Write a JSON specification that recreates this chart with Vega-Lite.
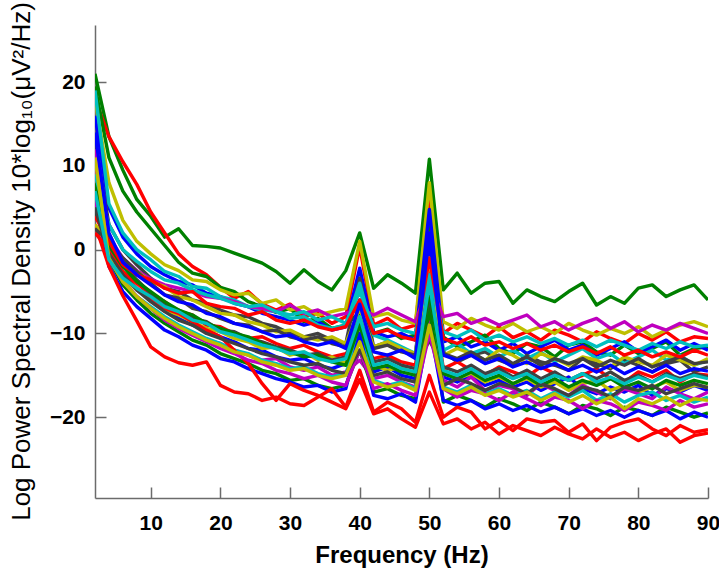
{
"$schema": "https://vega.github.io/schema/vega-lite/v6.json",
"width": 613, "height": 473,
"autosize": {"type": "none"},
"padding": {"left": 95, "top": 25, "right": 11, "bottom": 73},
"background": "white",
"config": {"view": {"stroke": null}},
"datasets": {"psd": [
{"s":1,"c":"g","f":2,"v":21},{"s":1,"c":"g","f":4,"v":13.5},{"s":1,"c":"g","f":6,"v":9.5},{"s":1,"c":"g","f":8,"v":6},{"s":1,"c":"g","f":10,"v":4},{"s":1,"c":"g","f":12,"v":1.5},{"s":1,"c":"g","f":14,"v":2.5},{"s":1,"c":"g","f":16,"v":0.5},{"s":1,"c":"g","f":18,"v":0.4},{"s":1,"c":"g","f":20,"v":0.2},{"s":1,"c":"g","f":22,"v":-0.4},{"s":1,"c":"g","f":24,"v":-1},{"s":1,"c":"g","f":26,"v":-1.6},{"s":1,"c":"g","f":28,"v":-2.6},{"s":1,"c":"g","f":30,"v":-4},{"s":1,"c":"g","f":32,"v":-2.4},{"s":1,"c":"g","f":34,"v":-3.8},{"s":1,"c":"g","f":36,"v":-4.8},{"s":1,"c":"g","f":38,"v":-2.5},{"s":1,"c":"g","f":40,"v":2},{"s":1,"c":"g","f":42,"v":-4.6},{"s":1,"c":"g","f":44,"v":-3},{"s":1,"c":"g","f":46,"v":-4},{"s":1,"c":"g","f":48,"v":-5.2},{"s":1,"c":"g","f":50,"v":10.8},{"s":1,"c":"g","f":52,"v":-4.8},{"s":1,"c":"g","f":54,"v":-2.8},{"s":1,"c":"g","f":56,"v":-5.2},{"s":1,"c":"g","f":58,"v":-4},{"s":1,"c":"g","f":60,"v":-3.8},{"s":1,"c":"g","f":62,"v":-6.4},{"s":1,"c":"g","f":64,"v":-4.8},{"s":1,"c":"g","f":66,"v":-5.6},{"s":1,"c":"g","f":68,"v":-6.2},{"s":1,"c":"g","f":70,"v":-5},{"s":1,"c":"g","f":72,"v":-4},{"s":1,"c":"g","f":74,"v":-6.6},{"s":1,"c":"g","f":76,"v":-5.6},{"s":1,"c":"g","f":78,"v":-6.4},{"s":1,"c":"g","f":80,"v":-4.6},{"s":1,"c":"g","f":82,"v":-4.2},{"s":1,"c":"g","f":84,"v":-5.6},{"s":1,"c":"g","f":86,"v":-4.8},{"s":1,"c":"g","f":88,"v":-4.2},{"s":1,"c":"g","f":90,"v":-6},
{"s":2,"c":"r","f":2,"v":18},{"s":2,"c":"r","f":4,"v":13.5},{"s":2,"c":"r","f":6,"v":10.5},{"s":2,"c":"r","f":8,"v":7.8},{"s":2,"c":"r","f":10,"v":4.5},{"s":2,"c":"r","f":12,"v":2},{"s":2,"c":"r","f":14,"v":-0.5},{"s":2,"c":"r","f":16,"v":-2},{"s":2,"c":"r","f":18,"v":-3},{"s":2,"c":"r","f":20,"v":-4.5},{"s":2,"c":"r","f":22,"v":-5.8},{"s":2,"c":"r","f":24,"v":-5},{"s":2,"c":"r","f":26,"v":-6.5},{"s":2,"c":"r","f":28,"v":-7.2},{"s":2,"c":"r","f":30,"v":-6.5},{"s":2,"c":"r","f":32,"v":-8},{"s":2,"c":"r","f":34,"v":-7.6},{"s":2,"c":"r","f":36,"v":-8.8},{"s":2,"c":"r","f":38,"v":-8},{"s":2,"c":"r","f":40,"v":0.4},{"s":2,"c":"r","f":42,"v":-9},{"s":2,"c":"r","f":44,"v":-8.2},{"s":2,"c":"r","f":46,"v":-9.5},{"s":2,"c":"r","f":48,"v":-9},{"s":2,"c":"r","f":50,"v":6.2},{"s":2,"c":"r","f":52,"v":-10},{"s":2,"c":"r","f":54,"v":-8.8},{"s":2,"c":"r","f":56,"v":-9.6},{"s":2,"c":"r","f":58,"v":-10.4},{"s":2,"c":"r","f":60,"v":-9.2},{"s":2,"c":"r","f":62,"v":-10.5},{"s":2,"c":"r","f":64,"v":-9.8},{"s":2,"c":"r","f":66,"v":-10.8},{"s":2,"c":"r","f":68,"v":-9.6},{"s":2,"c":"r","f":70,"v":-10.2},{"s":2,"c":"r","f":72,"v":-11},{"s":2,"c":"r","f":74,"v":-9.8},{"s":2,"c":"r","f":76,"v":-10.6},{"s":2,"c":"r","f":78,"v":-11.2},{"s":2,"c":"r","f":80,"v":-10},{"s":2,"c":"r","f":82,"v":-10.8},{"s":2,"c":"r","f":84,"v":-9.8},{"s":2,"c":"r","f":86,"v":-11},{"s":2,"c":"r","f":88,"v":-10.4},{"s":2,"c":"r","f":90,"v":-10.6},
{"s":3,"c":"g","f":2,"v":19.5},{"s":3,"c":"g","f":4,"v":11},{"s":3,"c":"g","f":6,"v":7},{"s":3,"c":"g","f":8,"v":4.5},{"s":3,"c":"g","f":10,"v":2.5},{"s":3,"c":"g","f":12,"v":0.5},{"s":3,"c":"g","f":14,"v":-1.5},{"s":3,"c":"g","f":16,"v":-2.8},{"s":3,"c":"g","f":18,"v":-3.2},{"s":3,"c":"g","f":20,"v":-4.5},{"s":3,"c":"g","f":22,"v":-5},{"s":3,"c":"g","f":24,"v":-6.2},{"s":3,"c":"g","f":26,"v":-6.8},{"s":3,"c":"g","f":28,"v":-7.5},{"s":3,"c":"g","f":30,"v":-7},{"s":3,"c":"g","f":32,"v":-8.6},{"s":3,"c":"g","f":34,"v":-8.2},{"s":3,"c":"g","f":36,"v":-9.4},{"s":3,"c":"g","f":38,"v":-9},{"s":3,"c":"g","f":40,"v":-7.5},{"s":3,"c":"g","f":42,"v":-10},{"s":3,"c":"g","f":44,"v":-9.5},{"s":3,"c":"g","f":46,"v":-10.6},{"s":3,"c":"g","f":48,"v":-10.2},{"s":3,"c":"g","f":50,"v":3},{"s":3,"c":"g","f":52,"v":-10.4},{"s":3,"c":"g","f":54,"v":-11.6},{"s":3,"c":"g","f":56,"v":-11},{"s":3,"c":"g","f":58,"v":-10.2},{"s":3,"c":"g","f":60,"v":-11.8},{"s":3,"c":"g","f":62,"v":-12.4},{"s":3,"c":"g","f":64,"v":-11.2},{"s":3,"c":"g","f":66,"v":-11.6},{"s":3,"c":"g","f":68,"v":-12.8},{"s":3,"c":"g","f":70,"v":-11.4},{"s":3,"c":"g","f":72,"v":-11},{"s":3,"c":"g","f":74,"v":-12.2},{"s":3,"c":"g","f":76,"v":-12.6},{"s":3,"c":"g","f":78,"v":-11.4},{"s":3,"c":"g","f":80,"v":-12.4},{"s":3,"c":"g","f":82,"v":-11.8},{"s":3,"c":"g","f":84,"v":-11},{"s":3,"c":"g","f":86,"v":-12.6},{"s":3,"c":"g","f":88,"v":-11.8},{"s":3,"c":"g","f":90,"v":-11.6},
{"s":4,"c":"y","f":2,"v":18},{"s":4,"c":"y","f":4,"v":8},{"s":4,"c":"y","f":6,"v":3.5},{"s":4,"c":"y","f":8,"v":1},{"s":4,"c":"y","f":10,"v":-0.5},{"s":4,"c":"y","f":12,"v":-1.8},{"s":4,"c":"y","f":14,"v":-2.5},{"s":4,"c":"y","f":16,"v":-3.6},{"s":4,"c":"y","f":18,"v":-3.8},{"s":4,"c":"y","f":20,"v":-4.8},{"s":4,"c":"y","f":22,"v":-5.4},{"s":4,"c":"y","f":24,"v":-5.2},{"s":4,"c":"y","f":26,"v":-6.4},{"s":4,"c":"y","f":28,"v":-6},{"s":4,"c":"y","f":30,"v":-7.2},{"s":4,"c":"y","f":32,"v":-6.8},{"s":4,"c":"y","f":34,"v":-7.8},{"s":4,"c":"y","f":36,"v":-7.4},{"s":4,"c":"y","f":38,"v":-7},{"s":4,"c":"y","f":40,"v":1},{"s":4,"c":"y","f":42,"v":-8},{"s":4,"c":"y","f":44,"v":-7.6},{"s":4,"c":"y","f":46,"v":-8.4},{"s":4,"c":"y","f":48,"v":-8.8},{"s":4,"c":"y","f":50,"v":8},{"s":4,"c":"y","f":52,"v":-8.6},{"s":4,"c":"y","f":54,"v":-9.4},{"s":4,"c":"y","f":56,"v":-8.2},{"s":4,"c":"y","f":58,"v":-9},{"s":4,"c":"y","f":60,"v":-9.6},{"s":4,"c":"y","f":62,"v":-8.8},{"s":4,"c":"y","f":64,"v":-9.8},{"s":4,"c":"y","f":66,"v":-9.2},{"s":4,"c":"y","f":68,"v":-10},{"s":4,"c":"y","f":70,"v":-8.8},{"s":4,"c":"y","f":72,"v":-9.6},{"s":4,"c":"y","f":74,"v":-10.2},{"s":4,"c":"y","f":76,"v":-9.4},{"s":4,"c":"y","f":78,"v":-10},{"s":4,"c":"y","f":80,"v":-9.2},{"s":4,"c":"y","f":82,"v":-10.4},{"s":4,"c":"y","f":84,"v":-9.6},{"s":4,"c":"y","f":86,"v":-9},{"s":4,"c":"y","f":88,"v":-8.6},{"s":4,"c":"y","f":90,"v":-9.2},
{"s":5,"c":"b","f":2,"v":16},{"s":5,"c":"b","f":4,"v":5},{"s":5,"c":"b","f":6,"v":1.5},{"s":5,"c":"b","f":8,"v":-0.5},{"s":5,"c":"b","f":10,"v":-2},{"s":5,"c":"b","f":12,"v":-3},{"s":5,"c":"b","f":14,"v":-3.8},{"s":5,"c":"b","f":16,"v":-4.2},{"s":5,"c":"b","f":18,"v":-5.2},{"s":5,"c":"b","f":20,"v":-5.6},{"s":5,"c":"b","f":22,"v":-6.4},{"s":5,"c":"b","f":24,"v":-6.8},{"s":5,"c":"b","f":26,"v":-7.6},{"s":5,"c":"b","f":28,"v":-8},{"s":5,"c":"b","f":30,"v":-8.4},{"s":5,"c":"b","f":32,"v":-9},{"s":5,"c":"b","f":34,"v":-8.6},{"s":5,"c":"b","f":36,"v":-9.6},{"s":5,"c":"b","f":38,"v":-9.2},{"s":5,"c":"b","f":40,"v":-2.2},{"s":5,"c":"b","f":42,"v":-9.8},{"s":5,"c":"b","f":44,"v":-10.4},{"s":5,"c":"b","f":46,"v":-10},{"s":5,"c":"b","f":48,"v":-10.8},{"s":5,"c":"b","f":50,"v":4.8},{"s":5,"c":"b","f":52,"v":-11},{"s":5,"c":"b","f":54,"v":-10.4},{"s":5,"c":"b","f":56,"v":-11.6},{"s":5,"c":"b","f":58,"v":-11},{"s":5,"c":"b","f":60,"v":-12},{"s":5,"c":"b","f":62,"v":-11.2},{"s":5,"c":"b","f":64,"v":-12.4},{"s":5,"c":"b","f":66,"v":-11.6},{"s":5,"c":"b","f":68,"v":-10.8},{"s":5,"c":"b","f":70,"v":-12},{"s":5,"c":"b","f":72,"v":-11.4},{"s":5,"c":"b","f":74,"v":-12.6},{"s":5,"c":"b","f":76,"v":-11.8},{"s":5,"c":"b","f":78,"v":-11},{"s":5,"c":"b","f":80,"v":-12.2},{"s":5,"c":"b","f":82,"v":-11.6},{"s":5,"c":"b","f":84,"v":-10.8},{"s":5,"c":"b","f":86,"v":-12},{"s":5,"c":"b","f":88,"v":-11.2},{"s":5,"c":"b","f":90,"v":-12},
{"s":6,"c":"k","f":2,"v":13},{"s":6,"c":"k","f":4,"v":3},{"s":6,"c":"k","f":6,"v":0},{"s":6,"c":"k","f":8,"v":-1.8},{"s":6,"c":"k","f":10,"v":-3.4},{"s":6,"c":"k","f":12,"v":-4.6},{"s":6,"c":"k","f":14,"v":-5},{"s":6,"c":"k","f":16,"v":-6},{"s":6,"c":"k","f":18,"v":-6.4},{"s":6,"c":"k","f":20,"v":-7.2},{"s":6,"c":"k","f":22,"v":-7.8},{"s":6,"c":"k","f":24,"v":-8},{"s":6,"c":"k","f":26,"v":-8.8},{"s":6,"c":"k","f":28,"v":-9.2},{"s":6,"c":"k","f":30,"v":-10},{"s":6,"c":"k","f":32,"v":-10.4},{"s":6,"c":"k","f":34,"v":-10},{"s":6,"c":"k","f":36,"v":-10.8},{"s":6,"c":"k","f":38,"v":-11.2},{"s":6,"c":"k","f":40,"v":-3.4},{"s":6,"c":"k","f":42,"v":-11.6},{"s":6,"c":"k","f":44,"v":-11},{"s":6,"c":"k","f":46,"v":-12},{"s":6,"c":"k","f":48,"v":-12.4},{"s":6,"c":"k","f":50,"v":1.6},{"s":6,"c":"k","f":52,"v":-12.2},{"s":6,"c":"k","f":54,"v":-13.4},{"s":6,"c":"k","f":56,"v":-12.6},{"s":6,"c":"k","f":58,"v":-12.2},{"s":6,"c":"k","f":60,"v":-13.2},{"s":6,"c":"k","f":62,"v":-13.8},{"s":6,"c":"k","f":64,"v":-12.6},{"s":6,"c":"k","f":66,"v":-13.4},{"s":6,"c":"k","f":68,"v":-13.8},{"s":6,"c":"k","f":70,"v":-14.4},{"s":6,"c":"k","f":72,"v":-13},{"s":6,"c":"k","f":74,"v":-13.6},{"s":6,"c":"k","f":76,"v":-14.2},{"s":6,"c":"k","f":78,"v":-13.2},{"s":6,"c":"k","f":80,"v":-13.8},{"s":6,"c":"k","f":82,"v":-14.6},{"s":6,"c":"k","f":84,"v":-13.6},{"s":6,"c":"k","f":86,"v":-13.2},{"s":6,"c":"k","f":88,"v":-14.6},{"s":6,"c":"k","f":90,"v":-14},
{"s":7,"c":"c","f":2,"v":19},{"s":7,"c":"c","f":4,"v":5.5},{"s":7,"c":"c","f":6,"v":2},{"s":7,"c":"c","f":8,"v":0},{"s":7,"c":"c","f":10,"v":-1.2},{"s":7,"c":"c","f":12,"v":-2.6},{"s":7,"c":"c","f":14,"v":-3.2},{"s":7,"c":"c","f":16,"v":-4.4},{"s":7,"c":"c","f":18,"v":-4.6},{"s":7,"c":"c","f":20,"v":-5.6},{"s":7,"c":"c","f":22,"v":-6},{"s":7,"c":"c","f":24,"v":-6.8},{"s":7,"c":"c","f":26,"v":-7.2},{"s":7,"c":"c","f":28,"v":-7.4},{"s":7,"c":"c","f":30,"v":-8.2},{"s":7,"c":"c","f":32,"v":-8},{"s":7,"c":"c","f":34,"v":-9},{"s":7,"c":"c","f":36,"v":-9.4},{"s":7,"c":"c","f":38,"v":-9},{"s":7,"c":"c","f":40,"v":-4},{"s":7,"c":"c","f":42,"v":-10.2},{"s":7,"c":"c","f":44,"v":-10.8},{"s":7,"c":"c","f":46,"v":-11.6},{"s":7,"c":"c","f":48,"v":-12.4},{"s":7,"c":"c","f":50,"v":-0.8},{"s":7,"c":"c","f":52,"v":-12},{"s":7,"c":"c","f":54,"v":-11.2},{"s":7,"c":"c","f":56,"v":-12.4},{"s":7,"c":"c","f":58,"v":-11.8},{"s":7,"c":"c","f":60,"v":-12.8},{"s":7,"c":"c","f":62,"v":-12},{"s":7,"c":"c","f":64,"v":-13},{"s":7,"c":"c","f":66,"v":-12.2},{"s":7,"c":"c","f":68,"v":-13.4},{"s":7,"c":"c","f":70,"v":-12.6},{"s":7,"c":"c","f":72,"v":-11.8},{"s":7,"c":"c","f":74,"v":-13},{"s":7,"c":"c","f":76,"v":-12.4},{"s":7,"c":"c","f":78,"v":-13.6},{"s":7,"c":"c","f":80,"v":-12.8},{"s":7,"c":"c","f":82,"v":-12},{"s":7,"c":"c","f":84,"v":-13.2},{"s":7,"c":"c","f":86,"v":-12.6},{"s":7,"c":"c","f":88,"v":-13.8},{"s":7,"c":"c","f":90,"v":-13.2},
{"s":8,"c":"m","f":2,"v":10},{"s":8,"c":"m","f":4,"v":1.5},{"s":8,"c":"m","f":6,"v":-1},{"s":8,"c":"m","f":8,"v":-2.5},{"s":8,"c":"m","f":10,"v":-3.5},{"s":8,"c":"m","f":12,"v":-4.2},{"s":8,"c":"m","f":14,"v":-4.6},{"s":8,"c":"m","f":16,"v":-5},{"s":8,"c":"m","f":18,"v":-5.6},{"s":8,"c":"m","f":20,"v":-5.8},{"s":8,"c":"m","f":22,"v":-6.2},{"s":8,"c":"m","f":24,"v":-6.8},{"s":8,"c":"m","f":26,"v":-7},{"s":8,"c":"m","f":28,"v":-7.4},{"s":8,"c":"m","f":30,"v":-6.6},{"s":8,"c":"m","f":32,"v":-7.6},{"s":8,"c":"m","f":34,"v":-7.2},{"s":8,"c":"m","f":36,"v":-8},{"s":8,"c":"m","f":38,"v":-7.6},{"s":8,"c":"m","f":40,"v":-7},{"s":8,"c":"m","f":42,"v":-7.8},{"s":8,"c":"m","f":44,"v":-7},{"s":8,"c":"m","f":46,"v":-7.8},{"s":8,"c":"m","f":48,"v":-8.6},{"s":8,"c":"m","f":50,"v":-4},{"s":8,"c":"m","f":52,"v":-8},{"s":8,"c":"m","f":54,"v":-7.6},{"s":8,"c":"m","f":56,"v":-8.8},{"s":8,"c":"m","f":58,"v":-8.2},{"s":8,"c":"m","f":60,"v":-9},{"s":8,"c":"m","f":62,"v":-8.4},{"s":8,"c":"m","f":64,"v":-7.8},{"s":8,"c":"m","f":66,"v":-9.2},{"s":8,"c":"m","f":68,"v":-8.6},{"s":8,"c":"m","f":70,"v":-9.6},{"s":8,"c":"m","f":72,"v":-8.8},{"s":8,"c":"m","f":74,"v":-8.2},{"s":8,"c":"m","f":76,"v":-9.4},{"s":8,"c":"m","f":78,"v":-8.6},{"s":8,"c":"m","f":80,"v":-9.8},{"s":8,"c":"m","f":82,"v":-9},{"s":8,"c":"m","f":84,"v":-9.6},{"s":8,"c":"m","f":86,"v":-8.8},{"s":8,"c":"m","f":88,"v":-9.4},{"s":8,"c":"m","f":90,"v":-10},
{"s":9,"c":"r","f":2,"v":8},{"s":9,"c":"r","f":4,"v":0},{"s":9,"c":"r","f":6,"v":-2.6},{"s":9,"c":"r","f":8,"v":-4},{"s":9,"c":"r","f":10,"v":-5.4},{"s":9,"c":"r","f":12,"v":-6.2},{"s":9,"c":"r","f":14,"v":-7.4},{"s":9,"c":"r","f":16,"v":-7.8},{"s":9,"c":"r","f":18,"v":-9},{"s":9,"c":"r","f":20,"v":-9.2},{"s":9,"c":"r","f":22,"v":-10},{"s":9,"c":"r","f":24,"v":-10.6},{"s":9,"c":"r","f":26,"v":-10.4},{"s":9,"c":"r","f":28,"v":-11.2},{"s":9,"c":"r","f":30,"v":-11.8},{"s":9,"c":"r","f":32,"v":-11.4},{"s":9,"c":"r","f":34,"v":-12.2},{"s":9,"c":"r","f":36,"v":-12.8},{"s":9,"c":"r","f":38,"v":-12.4},{"s":9,"c":"r","f":40,"v":-11.1},{"s":9,"c":"r","f":42,"v":-13},{"s":9,"c":"r","f":44,"v":-12.6},{"s":9,"c":"r","f":46,"v":-13.4},{"s":9,"c":"r","f":48,"v":-13.8},{"s":9,"c":"r","f":50,"v":-2.6},{"s":9,"c":"r","f":52,"v":-14.2},{"s":9,"c":"r","f":54,"v":-13.4},{"s":9,"c":"r","f":56,"v":-14.4},{"s":9,"c":"r","f":58,"v":-15},{"s":9,"c":"r","f":60,"v":-14},{"s":9,"c":"r","f":62,"v":-14.6},{"s":9,"c":"r","f":64,"v":-15.2},{"s":9,"c":"r","f":66,"v":-14},{"s":9,"c":"r","f":68,"v":-14.8},{"s":9,"c":"r","f":70,"v":-15.6},{"s":9,"c":"r","f":72,"v":-15},{"s":9,"c":"r","f":74,"v":-14.2},{"s":9,"c":"r","f":76,"v":-15.4},{"s":9,"c":"r","f":78,"v":-15.8},{"s":9,"c":"r","f":80,"v":-14.6},{"s":9,"c":"r","f":82,"v":-15.2},{"s":9,"c":"r","f":84,"v":-14.4},{"s":9,"c":"r","f":86,"v":-15.8},{"s":9,"c":"r","f":88,"v":-14.8},{"s":9,"c":"r","f":90,"v":-15},
{"s":10,"c":"b","f":2,"v":7},{"s":10,"c":"b","f":4,"v":-0.5},{"s":10,"c":"b","f":6,"v":-3},{"s":10,"c":"b","f":8,"v":-4.8},{"s":10,"c":"b","f":10,"v":-6},{"s":10,"c":"b","f":12,"v":-7},{"s":10,"c":"b","f":14,"v":-8.2},{"s":10,"c":"b","f":16,"v":-9},{"s":10,"c":"b","f":18,"v":-9.6},{"s":10,"c":"b","f":20,"v":-10.4},{"s":10,"c":"b","f":22,"v":-11},{"s":10,"c":"b","f":24,"v":-11.8},{"s":10,"c":"b","f":26,"v":-12},{"s":10,"c":"b","f":28,"v":-12.8},{"s":10,"c":"b","f":30,"v":-13.2},{"s":10,"c":"b","f":32,"v":-13},{"s":10,"c":"b","f":34,"v":-13.8},{"s":10,"c":"b","f":36,"v":-14.2},{"s":10,"c":"b","f":38,"v":-13.6},{"s":10,"c":"b","f":40,"v":-6},{"s":10,"c":"b","f":42,"v":-14.6},{"s":10,"c":"b","f":44,"v":-14},{"s":10,"c":"b","f":46,"v":-15},{"s":10,"c":"b","f":48,"v":-15.4},{"s":10,"c":"b","f":50,"v":0},{"s":10,"c":"b","f":52,"v":-15.2},{"s":10,"c":"b","f":54,"v":-15.8},{"s":10,"c":"b","f":56,"v":-15},{"s":10,"c":"b","f":58,"v":-16.2},{"s":10,"c":"b","f":60,"v":-15.6},{"s":10,"c":"b","f":62,"v":-16.4},{"s":10,"c":"b","f":64,"v":-15.8},{"s":10,"c":"b","f":66,"v":-16.8},{"s":10,"c":"b","f":68,"v":-16},{"s":10,"c":"b","f":70,"v":-15.2},{"s":10,"c":"b","f":72,"v":-16.6},{"s":10,"c":"b","f":74,"v":-17.2},{"s":10,"c":"b","f":76,"v":-16.4},{"s":10,"c":"b","f":78,"v":-17},{"s":10,"c":"b","f":80,"v":-16.2},{"s":10,"c":"b","f":82,"v":-17.4},{"s":10,"c":"b","f":84,"v":-16.6},{"s":10,"c":"b","f":86,"v":-17},{"s":10,"c":"b","f":88,"v":-16.2},{"s":10,"c":"b","f":90,"v":-16.8},
{"s":11,"c":"y","f":2,"v":5},{"s":11,"c":"y","f":4,"v":-0.8},{"s":11,"c":"y","f":6,"v":-3.4},{"s":11,"c":"y","f":8,"v":-4.8},{"s":11,"c":"y","f":10,"v":-5.8},{"s":11,"c":"y","f":12,"v":-7.2},{"s":11,"c":"y","f":14,"v":-7.8},{"s":11,"c":"y","f":16,"v":-8.6},{"s":11,"c":"y","f":18,"v":-9.4},{"s":11,"c":"y","f":20,"v":-9.8},{"s":11,"c":"y","f":22,"v":-10.6},{"s":11,"c":"y","f":24,"v":-11},{"s":11,"c":"y","f":26,"v":-11.8},{"s":11,"c":"y","f":28,"v":-11.6},{"s":11,"c":"y","f":30,"v":-12.6},{"s":11,"c":"y","f":32,"v":-12.2},{"s":11,"c":"y","f":34,"v":-13.2},{"s":11,"c":"y","f":36,"v":-12.8},{"s":11,"c":"y","f":38,"v":-13.6},{"s":11,"c":"y","f":40,"v":-9.2},{"s":11,"c":"y","f":42,"v":-13.8},{"s":11,"c":"y","f":44,"v":-14.4},{"s":11,"c":"y","f":46,"v":-14},{"s":11,"c":"y","f":48,"v":-15},{"s":11,"c":"y","f":50,"v":-4.8},{"s":11,"c":"y","f":52,"v":-14.6},{"s":11,"c":"y","f":54,"v":-15.4},{"s":11,"c":"y","f":56,"v":-14.8},{"s":11,"c":"y","f":58,"v":-15.8},{"s":11,"c":"y","f":60,"v":-15.2},{"s":11,"c":"y","f":62,"v":-16},{"s":11,"c":"y","f":64,"v":-15.4},{"s":11,"c":"y","f":66,"v":-16.4},{"s":11,"c":"y","f":68,"v":-15.8},{"s":11,"c":"y","f":70,"v":-16.8},{"s":11,"c":"y","f":72,"v":-16},{"s":11,"c":"y","f":74,"v":-15.6},{"s":11,"c":"y","f":76,"v":-16.8},{"s":11,"c":"y","f":78,"v":-16.2},{"s":11,"c":"y","f":80,"v":-17},{"s":11,"c":"y","f":82,"v":-16.4},{"s":11,"c":"y","f":84,"v":-15.8},{"s":11,"c":"y","f":86,"v":-16.8},{"s":11,"c":"y","f":88,"v":-16.2},{"s":11,"c":"y","f":90,"v":-16.4},
{"s":12,"c":"m","f":2,"v":12},{"s":12,"c":"m","f":4,"v":0},{"s":12,"c":"m","f":6,"v":-3.8},{"s":12,"c":"m","f":8,"v":-5.6},{"s":12,"c":"m","f":10,"v":-7},{"s":12,"c":"m","f":12,"v":-8.4},{"s":12,"c":"m","f":14,"v":-9.2},{"s":12,"c":"m","f":16,"v":-10},{"s":12,"c":"m","f":18,"v":-10.8},{"s":12,"c":"m","f":20,"v":-11.2},{"s":12,"c":"m","f":22,"v":-12},{"s":12,"c":"m","f":24,"v":-12.6},{"s":12,"c":"m","f":26,"v":-13.2},{"s":12,"c":"m","f":28,"v":-13},{"s":12,"c":"m","f":30,"v":-14},{"s":12,"c":"m","f":32,"v":-14.4},{"s":12,"c":"m","f":34,"v":-14},{"s":12,"c":"m","f":36,"v":-15},{"s":12,"c":"m","f":38,"v":-14.6},{"s":12,"c":"m","f":40,"v":-13.2},{"s":12,"c":"m","f":42,"v":-15.4},{"s":12,"c":"m","f":44,"v":-15},{"s":12,"c":"m","f":46,"v":-15.8},{"s":12,"c":"m","f":48,"v":-16.4},{"s":12,"c":"m","f":50,"v":-8.4},{"s":12,"c":"m","f":52,"v":-15.6},{"s":12,"c":"m","f":54,"v":-16.4},{"s":12,"c":"m","f":56,"v":-15.2},{"s":12,"c":"m","f":58,"v":-16.8},{"s":12,"c":"m","f":60,"v":-16.2},{"s":12,"c":"m","f":62,"v":-16.6},{"s":12,"c":"m","f":64,"v":-17.4},{"s":12,"c":"m","f":66,"v":-16},{"s":12,"c":"m","f":68,"v":-16.8},{"s":12,"c":"m","f":70,"v":-17.4},{"s":12,"c":"m","f":72,"v":-16.2},{"s":12,"c":"m","f":74,"v":-17},{"s":12,"c":"m","f":76,"v":-17.8},{"s":12,"c":"m","f":78,"v":-16.6},{"s":12,"c":"m","f":80,"v":-17.2},{"s":12,"c":"m","f":82,"v":-17.8},{"s":12,"c":"m","f":84,"v":-16.4},{"s":12,"c":"m","f":86,"v":-17.2},{"s":12,"c":"m","f":88,"v":-17.8},{"s":12,"c":"m","f":90,"v":-17},
{"s":13,"c":"k","f":2,"v":4.5},{"s":13,"c":"k","f":4,"v":1.5},{"s":13,"c":"k","f":6,"v":-1.8},{"s":13,"c":"k","f":8,"v":-3.6},{"s":13,"c":"k","f":10,"v":-5.2},{"s":13,"c":"k","f":12,"v":-6.6},{"s":13,"c":"k","f":14,"v":-7.2},{"s":13,"c":"k","f":16,"v":-8.2},{"s":13,"c":"k","f":18,"v":-8.6},{"s":13,"c":"k","f":20,"v":-9.6},{"s":13,"c":"k","f":22,"v":-9.8},{"s":13,"c":"k","f":24,"v":-10.6},{"s":13,"c":"k","f":26,"v":-11},{"s":13,"c":"k","f":28,"v":-11.6},{"s":13,"c":"k","f":30,"v":-12},{"s":13,"c":"k","f":32,"v":-12.6},{"s":13,"c":"k","f":34,"v":-12.4},{"s":13,"c":"k","f":36,"v":-13.2},{"s":13,"c":"k","f":38,"v":-12.8},{"s":13,"c":"k","f":40,"v":-8},{"s":13,"c":"k","f":42,"v":-13.4},{"s":13,"c":"k","f":44,"v":-13},{"s":13,"c":"k","f":46,"v":-13.8},{"s":13,"c":"k","f":48,"v":-14.2},{"s":13,"c":"k","f":50,"v":-10.8},{"s":13,"c":"k","f":52,"v":-14},{"s":13,"c":"k","f":54,"v":-14.6},{"s":13,"c":"k","f":56,"v":-13.8},{"s":13,"c":"k","f":58,"v":-14.8},{"s":13,"c":"k","f":60,"v":-14.2},{"s":13,"c":"k","f":62,"v":-15.2},{"s":13,"c":"k","f":64,"v":-14.4},{"s":13,"c":"k","f":66,"v":-15.4},{"s":13,"c":"k","f":68,"v":-14.6},{"s":13,"c":"k","f":70,"v":-15.6},{"s":13,"c":"k","f":72,"v":-14.8},{"s":13,"c":"k","f":74,"v":-15.4},{"s":13,"c":"k","f":76,"v":-14.6},{"s":13,"c":"k","f":78,"v":-15.6},{"s":13,"c":"k","f":80,"v":-15},{"s":13,"c":"k","f":82,"v":-15.8},{"s":13,"c":"k","f":84,"v":-14.8},{"s":13,"c":"k","f":86,"v":-15.4},{"s":13,"c":"k","f":88,"v":-14.8},{"s":13,"c":"k","f":90,"v":-15.2},
{"s":14,"c":"c","f":2,"v":6},{"s":14,"c":"c","f":4,"v":-1.5},{"s":14,"c":"c","f":6,"v":-4},{"s":14,"c":"c","f":8,"v":-5.6},{"s":14,"c":"c","f":10,"v":-6.8},{"s":14,"c":"c","f":12,"v":-8},{"s":14,"c":"c","f":14,"v":-9},{"s":14,"c":"c","f":16,"v":-9.8},{"s":14,"c":"c","f":18,"v":-10.6},{"s":14,"c":"c","f":20,"v":-11.2},{"s":14,"c":"c","f":22,"v":-12},{"s":14,"c":"c","f":24,"v":-12.4},{"s":14,"c":"c","f":26,"v":-13.2},{"s":14,"c":"c","f":28,"v":-13.6},{"s":14,"c":"c","f":30,"v":-14.2},{"s":14,"c":"c","f":32,"v":-14},{"s":14,"c":"c","f":34,"v":-14.8},{"s":14,"c":"c","f":36,"v":-15.2},{"s":14,"c":"c","f":38,"v":-14.8},{"s":14,"c":"c","f":40,"v":-10},{"s":14,"c":"c","f":42,"v":-15.6},{"s":14,"c":"c","f":44,"v":-16.2},{"s":14,"c":"c","f":46,"v":-15.8},{"s":14,"c":"c","f":48,"v":-16.6},{"s":14,"c":"c","f":50,"v":-6},{"s":14,"c":"c","f":52,"v":-16.4},{"s":14,"c":"c","f":54,"v":-17},{"s":14,"c":"c","f":56,"v":-16.2},{"s":14,"c":"c","f":58,"v":-17.2},{"s":14,"c":"c","f":60,"v":-16.6},{"s":14,"c":"c","f":62,"v":-17.4},{"s":14,"c":"c","f":64,"v":-16.8},{"s":14,"c":"c","f":66,"v":-17.8},{"s":14,"c":"c","f":68,"v":-17},{"s":14,"c":"c","f":70,"v":-17.6},{"s":14,"c":"c","f":72,"v":-16.8},{"s":14,"c":"c","f":74,"v":-18},{"s":14,"c":"c","f":76,"v":-17.2},{"s":14,"c":"c","f":78,"v":-18.2},{"s":14,"c":"c","f":80,"v":-17.4},{"s":14,"c":"c","f":82,"v":-17},{"s":14,"c":"c","f":84,"v":-18},{"s":14,"c":"c","f":86,"v":-17.4},{"s":14,"c":"c","f":88,"v":-18.2},{"s":14,"c":"c","f":90,"v":-17.6},
{"s":15,"c":"g","f":2,"v":8},{"s":15,"c":"g","f":4,"v":-1},{"s":15,"c":"g","f":6,"v":-4.2},{"s":15,"c":"g","f":8,"v":-6},{"s":15,"c":"g","f":10,"v":-7.6},{"s":15,"c":"g","f":12,"v":-8.8},{"s":15,"c":"g","f":14,"v":-9.8},{"s":15,"c":"g","f":16,"v":-10.8},{"s":15,"c":"g","f":18,"v":-11.4},{"s":15,"c":"g","f":20,"v":-12.4},{"s":15,"c":"g","f":22,"v":-13},{"s":15,"c":"g","f":24,"v":-13.6},{"s":15,"c":"g","f":26,"v":-14.4},{"s":15,"c":"g","f":28,"v":-14.8},{"s":15,"c":"g","f":30,"v":-15.6},{"s":15,"c":"g","f":32,"v":-15.4},{"s":15,"c":"g","f":34,"v":-16.2},{"s":15,"c":"g","f":36,"v":-16.6},{"s":15,"c":"g","f":38,"v":-16.2},{"s":15,"c":"g","f":40,"v":-12},{"s":15,"c":"g","f":42,"v":-17},{"s":15,"c":"g","f":44,"v":-16.6},{"s":15,"c":"g","f":46,"v":-17.4},{"s":15,"c":"g","f":48,"v":-17.8},{"s":15,"c":"g","f":50,"v":-7},{"s":15,"c":"g","f":52,"v":-18.2},{"s":15,"c":"g","f":54,"v":-17.4},{"s":15,"c":"g","f":56,"v":-18},{"s":15,"c":"g","f":58,"v":-18.8},{"s":15,"c":"g","f":60,"v":-17.8},{"s":15,"c":"g","f":62,"v":-18.4},{"s":15,"c":"g","f":64,"v":-19.2},{"s":15,"c":"g","f":66,"v":-18.2},{"s":15,"c":"g","f":68,"v":-18.8},{"s":15,"c":"g","f":70,"v":-19.6},{"s":15,"c":"g","f":72,"v":-18.6},{"s":15,"c":"g","f":74,"v":-19},{"s":15,"c":"g","f":76,"v":-19.8},{"s":15,"c":"g","f":78,"v":-18.8},{"s":15,"c":"g","f":80,"v":-19.2},{"s":15,"c":"g","f":82,"v":-19.8},{"s":15,"c":"g","f":84,"v":-18.8},{"s":15,"c":"g","f":86,"v":-19.4},{"s":15,"c":"g","f":88,"v":-20},{"s":15,"c":"g","f":90,"v":-19.5},
{"s":16,"c":"b","f":2,"v":6},{"s":16,"c":"b","f":4,"v":-2},{"s":16,"c":"b","f":6,"v":-5},{"s":16,"c":"b","f":8,"v":-6.8},{"s":16,"c":"b","f":10,"v":-8.2},{"s":16,"c":"b","f":12,"v":-9.6},{"s":16,"c":"b","f":14,"v":-10.4},{"s":16,"c":"b","f":16,"v":-11.4},{"s":16,"c":"b","f":18,"v":-12},{"s":16,"c":"b","f":20,"v":-13},{"s":16,"c":"b","f":22,"v":-13.4},{"s":16,"c":"b","f":24,"v":-14.2},{"s":16,"c":"b","f":26,"v":-14.8},{"s":16,"c":"b","f":28,"v":-15.4},{"s":16,"c":"b","f":30,"v":-15.8},{"s":16,"c":"b","f":32,"v":-16.4},{"s":16,"c":"b","f":34,"v":-16.2},{"s":16,"c":"b","f":36,"v":-17},{"s":16,"c":"b","f":38,"v":-16.6},{"s":16,"c":"b","f":40,"v":-10},{"s":16,"c":"b","f":42,"v":-17.4},{"s":16,"c":"b","f":44,"v":-17.8},{"s":16,"c":"b","f":46,"v":-17.2},{"s":16,"c":"b","f":48,"v":-18.2},{"s":16,"c":"b","f":50,"v":-9},{"s":16,"c":"b","f":52,"v":-18},{"s":16,"c":"b","f":54,"v":-18.6},{"s":16,"c":"b","f":56,"v":-18},{"s":16,"c":"b","f":58,"v":-19},{"s":16,"c":"b","f":60,"v":-18.4},{"s":16,"c":"b","f":62,"v":-19.2},{"s":16,"c":"b","f":64,"v":-18.6},{"s":16,"c":"b","f":66,"v":-19.4},{"s":16,"c":"b","f":68,"v":-18.8},{"s":16,"c":"b","f":70,"v":-19.6},{"s":16,"c":"b","f":72,"v":-19},{"s":16,"c":"b","f":74,"v":-19.8},{"s":16,"c":"b","f":76,"v":-19.2},{"s":16,"c":"b","f":78,"v":-20},{"s":16,"c":"b","f":80,"v":-19.2},{"s":16,"c":"b","f":82,"v":-19.8},{"s":16,"c":"b","f":84,"v":-19.2},{"s":16,"c":"b","f":86,"v":-20.2},{"s":16,"c":"b","f":88,"v":-19.4},{"s":16,"c":"b","f":90,"v":-20},
{"s":17,"c":"r","f":2,"v":3},{"s":17,"c":"r","f":4,"v":-2},{"s":17,"c":"r","f":6,"v":-5.5},{"s":17,"c":"r","f":8,"v":-8.5},{"s":17,"c":"r","f":10,"v":-11.6},{"s":17,"c":"r","f":12,"v":-12.8},{"s":17,"c":"r","f":14,"v":-13.5},{"s":17,"c":"r","f":16,"v":-13.8},{"s":17,"c":"r","f":18,"v":-13.4},{"s":17,"c":"r","f":20,"v":-16.2},{"s":17,"c":"r","f":22,"v":-17},{"s":17,"c":"r","f":24,"v":-17.2},{"s":17,"c":"r","f":26,"v":-18},{"s":17,"c":"r","f":28,"v":-17.6},{"s":17,"c":"r","f":30,"v":-18.4},{"s":17,"c":"r","f":32,"v":-18.6},{"s":17,"c":"r","f":34,"v":-17.6},{"s":17,"c":"r","f":36,"v":-16.6},{"s":17,"c":"r","f":38,"v":-18.8},{"s":17,"c":"r","f":40,"v":-14.4},{"s":17,"c":"r","f":42,"v":-19.4},{"s":17,"c":"r","f":44,"v":-18.2},{"s":17,"c":"r","f":46,"v":-19},{"s":17,"c":"r","f":48,"v":-20.6},{"s":17,"c":"r","f":50,"v":-15},{"s":17,"c":"r","f":52,"v":-20},{"s":17,"c":"r","f":54,"v":-18.8},{"s":17,"c":"r","f":56,"v":-19.4},{"s":17,"c":"r","f":58,"v":-21.4},{"s":17,"c":"r","f":60,"v":-20.4},{"s":17,"c":"r","f":62,"v":-21.6},{"s":17,"c":"r","f":64,"v":-20.2},{"s":17,"c":"r","f":66,"v":-20.6},{"s":17,"c":"r","f":68,"v":-20.4},{"s":17,"c":"r","f":70,"v":-21.8},{"s":17,"c":"r","f":72,"v":-20.8},{"s":17,"c":"r","f":74,"v":-22.8},{"s":17,"c":"r","f":76,"v":-21.2},{"s":17,"c":"r","f":78,"v":-20.6},{"s":17,"c":"r","f":80,"v":-20.2},{"s":17,"c":"r","f":82,"v":-21.4},{"s":17,"c":"r","f":84,"v":-22.2},{"s":17,"c":"r","f":86,"v":-21},{"s":17,"c":"r","f":88,"v":-21.8},{"s":17,"c":"r","f":90,"v":-21.5},
{"s":18,"c":"r","f":2,"v":2},{"s":18,"c":"r","f":4,"v":0},{"s":18,"c":"r","f":6,"v":-2.8},{"s":18,"c":"r","f":8,"v":-4.6},{"s":18,"c":"r","f":10,"v":-6},{"s":18,"c":"r","f":12,"v":-7},{"s":18,"c":"r","f":14,"v":-7.6},{"s":18,"c":"r","f":16,"v":-8.6},{"s":18,"c":"r","f":18,"v":-9.6},{"s":18,"c":"r","f":20,"v":-10.4},{"s":18,"c":"r","f":22,"v":-12},{"s":18,"c":"r","f":24,"v":-13.6},{"s":18,"c":"r","f":26,"v":-16},{"s":18,"c":"r","f":28,"v":-18},{"s":18,"c":"r","f":30,"v":-16},{"s":18,"c":"r","f":32,"v":-16.8},{"s":18,"c":"r","f":34,"v":-17.4},{"s":18,"c":"r","f":36,"v":-18.2},{"s":18,"c":"r","f":38,"v":-19},{"s":18,"c":"r","f":40,"v":-15.5},{"s":18,"c":"r","f":42,"v":-19.6},{"s":18,"c":"r","f":44,"v":-19},{"s":18,"c":"r","f":46,"v":-20.2},{"s":18,"c":"r","f":48,"v":-21.2},{"s":18,"c":"r","f":50,"v":-17},{"s":18,"c":"r","f":52,"v":-20.8},{"s":18,"c":"r","f":54,"v":-20.2},{"s":18,"c":"r","f":56,"v":-21.4},{"s":18,"c":"r","f":58,"v":-20.6},{"s":18,"c":"r","f":60,"v":-22},{"s":18,"c":"r","f":62,"v":-21},{"s":18,"c":"r","f":64,"v":-21.6},{"s":18,"c":"r","f":66,"v":-22.2},{"s":18,"c":"r","f":68,"v":-21.2},{"s":18,"c":"r","f":70,"v":-22},{"s":18,"c":"r","f":72,"v":-22.6},{"s":18,"c":"r","f":74,"v":-21.4},{"s":18,"c":"r","f":76,"v":-22.4},{"s":18,"c":"r","f":78,"v":-21.8},{"s":18,"c":"r","f":80,"v":-22.8},{"s":18,"c":"r","f":82,"v":-22},{"s":18,"c":"r","f":84,"v":-21.4},{"s":18,"c":"r","f":86,"v":-23},{"s":18,"c":"r","f":88,"v":-22.2},{"s":18,"c":"r","f":90,"v":-21.9},
{"s":19,"c":"y","f":2,"v":3},{"s":19,"c":"y","f":4,"v":1},{"s":19,"c":"y","f":6,"v":-1.2},{"s":19,"c":"y","f":8,"v":-2.6},{"s":19,"c":"y","f":10,"v":-3.8},{"s":19,"c":"y","f":12,"v":-4.4},{"s":19,"c":"y","f":14,"v":-5.6},{"s":19,"c":"y","f":16,"v":-6},{"s":19,"c":"y","f":18,"v":-6.8},{"s":19,"c":"y","f":20,"v":-7.6},{"s":19,"c":"y","f":22,"v":-7.8},{"s":19,"c":"y","f":24,"v":-8.6},{"s":19,"c":"y","f":26,"v":-9},{"s":19,"c":"y","f":28,"v":-9.8},{"s":19,"c":"y","f":30,"v":-9.6},{"s":19,"c":"y","f":32,"v":-10.4},{"s":19,"c":"y","f":34,"v":-10.8},{"s":19,"c":"y","f":36,"v":-10.4},{"s":19,"c":"y","f":38,"v":-11.2},{"s":19,"c":"y","f":40,"v":-7},{"s":19,"c":"y","f":42,"v":-11.6},{"s":19,"c":"y","f":44,"v":-11},{"s":19,"c":"y","f":46,"v":-11.8},{"s":19,"c":"y","f":48,"v":-12.4},{"s":19,"c":"y","f":50,"v":-1},{"s":19,"c":"y","f":52,"v":-12.6},{"s":19,"c":"y","f":54,"v":-11.8},{"s":19,"c":"y","f":56,"v":-12.4},{"s":19,"c":"y","f":58,"v":-13.2},{"s":19,"c":"y","f":60,"v":-12},{"s":19,"c":"y","f":62,"v":-12.6},{"s":19,"c":"y","f":64,"v":-13.6},{"s":19,"c":"y","f":66,"v":-12.4},{"s":19,"c":"y","f":68,"v":-13},{"s":19,"c":"y","f":70,"v":-13.8},{"s":19,"c":"y","f":72,"v":-12.8},{"s":19,"c":"y","f":74,"v":-13.2},{"s":19,"c":"y","f":76,"v":-14},{"s":19,"c":"y","f":78,"v":-12.8},{"s":19,"c":"y","f":80,"v":-13.4},{"s":19,"c":"y","f":82,"v":-13.8},{"s":19,"c":"y","f":84,"v":-12.6},{"s":19,"c":"y","f":86,"v":-13.2},{"s":19,"c":"y","f":88,"v":-13.8},{"s":19,"c":"y","f":90,"v":-13},
{"s":20,"c":"c","f":2,"v":9},{"s":20,"c":"c","f":4,"v":3},{"s":20,"c":"c","f":6,"v":0},{"s":20,"c":"c","f":8,"v":-1.4},{"s":20,"c":"c","f":10,"v":-2.6},{"s":20,"c":"c","f":12,"v":-3.6},{"s":20,"c":"c","f":14,"v":-4},{"s":20,"c":"c","f":16,"v":-4.8},{"s":20,"c":"c","f":18,"v":-5.4},{"s":20,"c":"c","f":20,"v":-5.8},{"s":20,"c":"c","f":22,"v":-6.4},{"s":20,"c":"c","f":24,"v":-6.8},{"s":20,"c":"c","f":26,"v":-6.6},{"s":20,"c":"c","f":28,"v":-7.4},{"s":20,"c":"c","f":30,"v":-7.8},{"s":20,"c":"c","f":32,"v":-7.4},{"s":20,"c":"c","f":34,"v":-8.4},{"s":20,"c":"c","f":36,"v":-8},{"s":20,"c":"c","f":38,"v":-8.8},{"s":20,"c":"c","f":40,"v":-5},{"s":20,"c":"c","f":42,"v":-9.2},{"s":20,"c":"c","f":44,"v":-8.8},{"s":20,"c":"c","f":46,"v":-9.6},{"s":20,"c":"c","f":48,"v":-10},{"s":20,"c":"c","f":50,"v":-3},{"s":20,"c":"c","f":52,"v":-9.8},{"s":20,"c":"c","f":54,"v":-10.4},{"s":20,"c":"c","f":56,"v":-9.6},{"s":20,"c":"c","f":58,"v":-10.8},{"s":20,"c":"c","f":60,"v":-10.2},{"s":20,"c":"c","f":62,"v":-11},{"s":20,"c":"c","f":64,"v":-10.4},{"s":20,"c":"c","f":66,"v":-11.2},{"s":20,"c":"c","f":68,"v":-10.6},{"s":20,"c":"c","f":70,"v":-11.4},{"s":20,"c":"c","f":72,"v":-10.8},{"s":20,"c":"c","f":74,"v":-11.6},{"s":20,"c":"c","f":76,"v":-10.8},{"s":20,"c":"c","f":78,"v":-11.4},{"s":20,"c":"c","f":80,"v":-12},{"s":20,"c":"c","f":82,"v":-11.2},{"s":20,"c":"c","f":84,"v":-11.8},{"s":20,"c":"c","f":86,"v":-11},{"s":20,"c":"c","f":88,"v":-11.6},{"s":20,"c":"c","f":90,"v":-11.4},
{"s":21,"c":"m","f":2,"v":6},{"s":21,"c":"m","f":4,"v":-1},{"s":21,"c":"m","f":6,"v":-3.8},{"s":21,"c":"m","f":8,"v":-5.6},{"s":21,"c":"m","f":10,"v":-7},{"s":21,"c":"m","f":12,"v":-8.4},{"s":21,"c":"m","f":14,"v":-9.4},{"s":21,"c":"m","f":16,"v":-10.2},{"s":21,"c":"m","f":18,"v":-11},{"s":21,"c":"m","f":20,"v":-11.8},{"s":21,"c":"m","f":22,"v":-12.4},{"s":21,"c":"m","f":24,"v":-13.2},{"s":21,"c":"m","f":26,"v":-13.6},{"s":21,"c":"m","f":28,"v":-14.4},{"s":21,"c":"m","f":30,"v":-14.8},{"s":21,"c":"m","f":32,"v":-15.4},{"s":21,"c":"m","f":34,"v":-15},{"s":21,"c":"m","f":36,"v":-15.8},{"s":21,"c":"m","f":38,"v":-16.2},{"s":21,"c":"m","f":40,"v":-12},{"s":21,"c":"m","f":42,"v":-16.6},{"s":21,"c":"m","f":44,"v":-16},{"s":21,"c":"m","f":46,"v":-16.8},{"s":21,"c":"m","f":48,"v":-17.4},{"s":21,"c":"m","f":50,"v":-10},{"s":21,"c":"m","f":52,"v":-16.6},{"s":21,"c":"m","f":54,"v":-17.6},{"s":21,"c":"m","f":56,"v":-16.8},{"s":21,"c":"m","f":58,"v":-17.2},{"s":21,"c":"m","f":60,"v":-18},{"s":21,"c":"m","f":62,"v":-17},{"s":21,"c":"m","f":64,"v":-17.8},{"s":21,"c":"m","f":66,"v":-18.6},{"s":21,"c":"m","f":68,"v":-17.6},{"s":21,"c":"m","f":70,"v":-18},{"s":21,"c":"m","f":72,"v":-19},{"s":21,"c":"m","f":74,"v":-18},{"s":21,"c":"m","f":76,"v":-18.4},{"s":21,"c":"m","f":78,"v":-19.2},{"s":21,"c":"m","f":80,"v":-18.2},{"s":21,"c":"m","f":82,"v":-18.6},{"s":21,"c":"m","f":84,"v":-19.2},{"s":21,"c":"m","f":86,"v":-18},{"s":21,"c":"m","f":88,"v":-18.8},{"s":21,"c":"m","f":90,"v":-18.4},
{"s":22,"c":"k","f":2,"v":2.5},{"s":22,"c":"k","f":4,"v":1},{"s":22,"c":"k","f":6,"v":-1},{"s":22,"c":"k","f":8,"v":-2.6},{"s":22,"c":"k","f":10,"v":-4},{"s":22,"c":"k","f":12,"v":-5.4},{"s":22,"c":"k","f":14,"v":-5.8},{"s":22,"c":"k","f":16,"v":-7},{"s":22,"c":"k","f":18,"v":-7.4},{"s":22,"c":"k","f":20,"v":-8.2},{"s":22,"c":"k","f":22,"v":-8.8},{"s":22,"c":"k","f":24,"v":-9},{"s":22,"c":"k","f":26,"v":-9.8},{"s":22,"c":"k","f":28,"v":-9.6},{"s":22,"c":"k","f":30,"v":-10.4},{"s":22,"c":"k","f":32,"v":-10.8},{"s":22,"c":"k","f":34,"v":-10.4},{"s":22,"c":"k","f":36,"v":-11.2},{"s":22,"c":"k","f":38,"v":-11.6},{"s":22,"c":"k","f":40,"v":-9},{"s":22,"c":"k","f":42,"v":-11.8},{"s":22,"c":"k","f":44,"v":-11.4},{"s":22,"c":"k","f":46,"v":-12.2},{"s":22,"c":"k","f":48,"v":-12.6},{"s":22,"c":"k","f":50,"v":-6},{"s":22,"c":"k","f":52,"v":-12.4},{"s":22,"c":"k","f":54,"v":-13},{"s":22,"c":"k","f":56,"v":-12.2},{"s":22,"c":"k","f":58,"v":-13.2},{"s":22,"c":"k","f":60,"v":-12.6},{"s":22,"c":"k","f":62,"v":-13.6},{"s":22,"c":"k","f":64,"v":-12.8},{"s":22,"c":"k","f":66,"v":-13.8},{"s":22,"c":"k","f":68,"v":-13},{"s":22,"c":"k","f":70,"v":-13.6},{"s":22,"c":"k","f":72,"v":-13},{"s":22,"c":"k","f":74,"v":-14},{"s":22,"c":"k","f":76,"v":-13.2},{"s":22,"c":"k","f":78,"v":-13.8},{"s":22,"c":"k","f":80,"v":-13},{"s":22,"c":"k","f":82,"v":-14},{"s":22,"c":"k","f":84,"v":-13.4},{"s":22,"c":"k","f":86,"v":-12.8},{"s":22,"c":"k","f":88,"v":-13.6},{"s":22,"c":"k","f":90,"v":-13.4},
{"s":23,"c":"g","f":2,"v":5},{"s":23,"c":"g","f":4,"v":0.5},{"s":23,"c":"g","f":6,"v":-2},{"s":23,"c":"g","f":8,"v":-3.8},{"s":23,"c":"g","f":10,"v":-5},{"s":23,"c":"g","f":12,"v":-6.2},{"s":23,"c":"g","f":14,"v":-7.2},{"s":23,"c":"g","f":16,"v":-7.8},{"s":23,"c":"g","f":18,"v":-8.8},{"s":23,"c":"g","f":20,"v":-9.4},{"s":23,"c":"g","f":22,"v":-10},{"s":23,"c":"g","f":24,"v":-10.4},{"s":23,"c":"g","f":26,"v":-11.2},{"s":23,"c":"g","f":28,"v":-11.8},{"s":23,"c":"g","f":30,"v":-12.2},{"s":23,"c":"g","f":32,"v":-12.8},{"s":23,"c":"g","f":34,"v":-12.6},{"s":23,"c":"g","f":36,"v":-13.4},{"s":23,"c":"g","f":38,"v":-13.8},{"s":23,"c":"g","f":40,"v":-9},{"s":23,"c":"g","f":42,"v":-14.2},{"s":23,"c":"g","f":44,"v":-13.8},{"s":23,"c":"g","f":46,"v":-14.6},{"s":23,"c":"g","f":48,"v":-15},{"s":23,"c":"g","f":50,"v":-5},{"s":23,"c":"g","f":52,"v":-14.8},{"s":23,"c":"g","f":54,"v":-15.4},{"s":23,"c":"g","f":56,"v":-14.6},{"s":23,"c":"g","f":58,"v":-15.6},{"s":23,"c":"g","f":60,"v":-15},{"s":23,"c":"g","f":62,"v":-16},{"s":23,"c":"g","f":64,"v":-15.2},{"s":23,"c":"g","f":66,"v":-16.2},{"s":23,"c":"g","f":68,"v":-15.4},{"s":23,"c":"g","f":70,"v":-16.4},{"s":23,"c":"g","f":72,"v":-15.6},{"s":23,"c":"g","f":74,"v":-16.2},{"s":23,"c":"g","f":76,"v":-15.4},{"s":23,"c":"g","f":78,"v":-16.4},{"s":23,"c":"g","f":80,"v":-15.8},{"s":23,"c":"g","f":82,"v":-16.6},{"s":23,"c":"g","f":84,"v":-15.6},{"s":23,"c":"g","f":86,"v":-16.2},{"s":23,"c":"g","f":88,"v":-15.6},{"s":23,"c":"g","f":90,"v":-16},
{"s":24,"c":"r","f":2,"v":4},{"s":24,"c":"r","f":4,"v":1},{"s":24,"c":"r","f":6,"v":-1.8},{"s":24,"c":"r","f":8,"v":-3},{"s":24,"c":"r","f":10,"v":-3.6},{"s":24,"c":"r","f":12,"v":-4.6},{"s":24,"c":"r","f":14,"v":-5.2},{"s":24,"c":"r","f":16,"v":-5},{"s":24,"c":"r","f":18,"v":-6.4},{"s":24,"c":"r","f":20,"v":-6.8},{"s":24,"c":"r","f":22,"v":-7},{"s":24,"c":"r","f":24,"v":-7.8},{"s":24,"c":"r","f":26,"v":-7.4},{"s":24,"c":"r","f":28,"v":-8.4},{"s":24,"c":"r","f":30,"v":-8.8},{"s":24,"c":"r","f":32,"v":-8.4},{"s":24,"c":"r","f":34,"v":-9.2},{"s":24,"c":"r","f":36,"v":-9.6},{"s":24,"c":"r","f":38,"v":-9.2},{"s":24,"c":"r","f":40,"v":-6},{"s":24,"c":"r","f":42,"v":-10},{"s":24,"c":"r","f":44,"v":-9.6},{"s":24,"c":"r","f":46,"v":-10.4},{"s":24,"c":"r","f":48,"v":-10.8},{"s":24,"c":"r","f":50,"v":-1},{"s":24,"c":"r","f":52,"v":-10.6},{"s":24,"c":"r","f":54,"v":-11.2},{"s":24,"c":"r","f":56,"v":-10.4},{"s":24,"c":"r","f":58,"v":-11.4},{"s":24,"c":"r","f":60,"v":-11},{"s":24,"c":"r","f":62,"v":-11.8},{"s":24,"c":"r","f":64,"v":-11.2},{"s":24,"c":"r","f":66,"v":-12},{"s":24,"c":"r","f":68,"v":-11.4},{"s":24,"c":"r","f":70,"v":-12.2},{"s":24,"c":"r","f":72,"v":-11.6},{"s":24,"c":"r","f":74,"v":-12.4},{"s":24,"c":"r","f":76,"v":-11.6},{"s":24,"c":"r","f":78,"v":-12.6},{"s":24,"c":"r","f":80,"v":-12},{"s":24,"c":"r","f":82,"v":-12.8},{"s":24,"c":"r","f":84,"v":-12.2},{"s":24,"c":"r","f":86,"v":-12.8},{"s":24,"c":"r","f":88,"v":-12},{"s":24,"c":"r","f":90,"v":-12.6},
{"s":25,"c":"b","f":2,"v":14},{"s":25,"c":"b","f":4,"v":2},{"s":25,"c":"b","f":6,"v":-1.5},{"s":25,"c":"b","f":8,"v":-3},{"s":25,"c":"b","f":10,"v":-4.2},{"s":25,"c":"b","f":12,"v":-5.4},{"s":25,"c":"b","f":14,"v":-6.2},{"s":25,"c":"b","f":16,"v":-6.6},{"s":25,"c":"b","f":18,"v":-7.6},{"s":25,"c":"b","f":20,"v":-8},{"s":25,"c":"b","f":22,"v":-8.8},{"s":25,"c":"b","f":24,"v":-9.2},{"s":25,"c":"b","f":26,"v":-9.8},{"s":25,"c":"b","f":28,"v":-10.4},{"s":25,"c":"b","f":30,"v":-10.2},{"s":25,"c":"b","f":32,"v":-11},{"s":25,"c":"b","f":34,"v":-11.4},{"s":25,"c":"b","f":36,"v":-11},{"s":25,"c":"b","f":38,"v":-11.8},{"s":25,"c":"b","f":40,"v":-6.5},{"s":25,"c":"b","f":42,"v":-12.2},{"s":25,"c":"b","f":44,"v":-12.6},{"s":25,"c":"b","f":46,"v":-12},{"s":25,"c":"b","f":48,"v":-13},{"s":25,"c":"b","f":50,"v":2},{"s":25,"c":"b","f":52,"v":-12.6},{"s":25,"c":"b","f":54,"v":-13.2},{"s":25,"c":"b","f":56,"v":-12.6},{"s":25,"c":"b","f":58,"v":-13.6},{"s":25,"c":"b","f":60,"v":-13},{"s":25,"c":"b","f":62,"v":-14},{"s":25,"c":"b","f":64,"v":-13.4},{"s":25,"c":"b","f":66,"v":-14.2},{"s":25,"c":"b","f":68,"v":-13.6},{"s":25,"c":"b","f":70,"v":-14.4},{"s":25,"c":"b","f":72,"v":-13.8},{"s":25,"c":"b","f":74,"v":-14.6},{"s":25,"c":"b","f":76,"v":-13.8},{"s":25,"c":"b","f":78,"v":-14.8},{"s":25,"c":"b","f":80,"v":-14},{"s":25,"c":"b","f":82,"v":-14.6},{"s":25,"c":"b","f":84,"v":-13.8},{"s":25,"c":"b","f":86,"v":-14.8},{"s":25,"c":"b","f":88,"v":-14.2},{"s":25,"c":"b","f":90,"v":-14.5},
{"s":26,"c":"k","f":2,"v":5},{"s":26,"c":"k","f":4,"v":-0.5},{"s":26,"c":"k","f":6,"v":-3},{"s":26,"c":"k","f":8,"v":-4.8},{"s":26,"c":"k","f":10,"v":-6.2},{"s":26,"c":"k","f":12,"v":-7.4},{"s":26,"c":"k","f":14,"v":-8.4},{"s":26,"c":"k","f":16,"v":-9},{"s":26,"c":"k","f":18,"v":-10},{"s":26,"c":"k","f":20,"v":-10.6},{"s":26,"c":"k","f":22,"v":-11.2},{"s":26,"c":"k","f":24,"v":-11.8},{"s":26,"c":"k","f":26,"v":-12.4},{"s":26,"c":"k","f":28,"v":-12.8},{"s":26,"c":"k","f":30,"v":-13.4},{"s":26,"c":"k","f":32,"v":-13.8},{"s":26,"c":"k","f":34,"v":-13.6},{"s":26,"c":"k","f":36,"v":-14.4},{"s":26,"c":"k","f":38,"v":-14.8},{"s":26,"c":"k","f":40,"v":-12},{"s":26,"c":"k","f":42,"v":-15},{"s":26,"c":"k","f":44,"v":-14.6},{"s":26,"c":"k","f":46,"v":-15.4},{"s":26,"c":"k","f":48,"v":-15.8},{"s":26,"c":"k","f":50,"v":-9},{"s":26,"c":"k","f":52,"v":-16.2},{"s":26,"c":"k","f":54,"v":-15.4},{"s":26,"c":"k","f":56,"v":-16},{"s":26,"c":"k","f":58,"v":-16.8},{"s":26,"c":"k","f":60,"v":-16},{"s":26,"c":"k","f":62,"v":-16.4},{"s":26,"c":"k","f":64,"v":-17.2},{"s":26,"c":"k","f":66,"v":-16},{"s":26,"c":"k","f":68,"v":-16.6},{"s":26,"c":"k","f":70,"v":-17.4},{"s":26,"c":"k","f":72,"v":-16.4},{"s":26,"c":"k","f":74,"v":-16.8},{"s":26,"c":"k","f":76,"v":-17.6},{"s":26,"c":"k","f":78,"v":-16.4},{"s":26,"c":"k","f":80,"v":-16.8},{"s":26,"c":"k","f":82,"v":-16.2},{"s":26,"c":"k","f":84,"v":-17.2},{"s":26,"c":"k","f":86,"v":-16.6},{"s":26,"c":"k","f":88,"v":-16},{"s":26,"c":"k","f":90,"v":-16.5},
{"s":27,"c":"y","f":2,"v":11},{"s":27,"c":"y","f":4,"v":-1},{"s":27,"c":"y","f":6,"v":-3.8},{"s":27,"c":"y","f":8,"v":-5.6},{"s":27,"c":"y","f":10,"v":-7},{"s":27,"c":"y","f":12,"v":-8.2},{"s":27,"c":"y","f":14,"v":-9.2},{"s":27,"c":"y","f":16,"v":-10},{"s":27,"c":"y","f":18,"v":-10.8},{"s":27,"c":"y","f":20,"v":-11.4},{"s":27,"c":"y","f":22,"v":-12.2},{"s":27,"c":"y","f":24,"v":-12.6},{"s":27,"c":"y","f":26,"v":-13.4},{"s":27,"c":"y","f":28,"v":-13.8},{"s":27,"c":"y","f":30,"v":-14.4},{"s":27,"c":"y","f":32,"v":-14.2},{"s":27,"c":"y","f":34,"v":-15},{"s":27,"c":"y","f":36,"v":-15.4},{"s":27,"c":"y","f":38,"v":-15},{"s":27,"c":"y","f":40,"v":-11},{"s":27,"c":"y","f":42,"v":-15.8},{"s":27,"c":"y","f":44,"v":-16.4},{"s":27,"c":"y","f":46,"v":-16},{"s":27,"c":"y","f":48,"v":-16.8},{"s":27,"c":"y","f":50,"v":-9},{"s":27,"c":"y","f":52,"v":-16.6},{"s":27,"c":"y","f":54,"v":-17.2},{"s":27,"c":"y","f":56,"v":-16.4},{"s":27,"c":"y","f":58,"v":-17.4},{"s":27,"c":"y","f":60,"v":-16.8},{"s":27,"c":"y","f":62,"v":-17.6},{"s":27,"c":"y","f":64,"v":-17},{"s":27,"c":"y","f":66,"v":-18},{"s":27,"c":"y","f":68,"v":-17.2},{"s":27,"c":"y","f":70,"v":-18.2},{"s":27,"c":"y","f":72,"v":-17.4},{"s":27,"c":"y","f":74,"v":-18.4},{"s":27,"c":"y","f":76,"v":-17.6},{"s":27,"c":"y","f":78,"v":-19},{"s":27,"c":"y","f":80,"v":-17.8},{"s":27,"c":"y","f":82,"v":-18.4},{"s":27,"c":"y","f":84,"v":-17.6},{"s":27,"c":"y","f":86,"v":-18.6},{"s":27,"c":"y","f":88,"v":-17.8},{"s":27,"c":"y","f":90,"v":-18},
{"s":28,"c":"c","f":2,"v":7},{"s":28,"c":"c","f":4,"v":-1.2},{"s":28,"c":"c","f":6,"v":-3.4},{"s":28,"c":"c","f":8,"v":-4.6},{"s":28,"c":"c","f":10,"v":-5.6},{"s":28,"c":"c","f":12,"v":-6.8},{"s":28,"c":"c","f":14,"v":-7.4},{"s":28,"c":"c","f":16,"v":-8.4},{"s":28,"c":"c","f":18,"v":-8.8},{"s":28,"c":"c","f":20,"v":-9.8},{"s":28,"c":"c","f":22,"v":-10.2},{"s":28,"c":"c","f":24,"v":-10.8},{"s":28,"c":"c","f":26,"v":-11.4},{"s":28,"c":"c","f":28,"v":-11.8},{"s":28,"c":"c","f":30,"v":-12.4},{"s":28,"c":"c","f":32,"v":-12.2},{"s":28,"c":"c","f":34,"v":-13},{"s":28,"c":"c","f":36,"v":-13.4},{"s":28,"c":"c","f":38,"v":-13},{"s":28,"c":"c","f":40,"v":-8},{"s":28,"c":"c","f":42,"v":-13.8},{"s":28,"c":"c","f":44,"v":-13.4},{"s":28,"c":"c","f":46,"v":-14.2},{"s":28,"c":"c","f":48,"v":-14.6},{"s":28,"c":"c","f":50,"v":-4},{"s":28,"c":"c","f":52,"v":-14.4},{"s":28,"c":"c","f":54,"v":-15},{"s":28,"c":"c","f":56,"v":-14.2},{"s":28,"c":"c","f":58,"v":-15.2},{"s":28,"c":"c","f":60,"v":-14.6},{"s":28,"c":"c","f":62,"v":-15.4},{"s":28,"c":"c","f":64,"v":-14.8},{"s":28,"c":"c","f":66,"v":-15.8},{"s":28,"c":"c","f":68,"v":-15},{"s":28,"c":"c","f":70,"v":-15.6},{"s":28,"c":"c","f":72,"v":-14.8},{"s":28,"c":"c","f":74,"v":-15.8},{"s":28,"c":"c","f":76,"v":-15.2},{"s":28,"c":"c","f":78,"v":-16},{"s":28,"c":"c","f":80,"v":-15.2},{"s":28,"c":"c","f":82,"v":-15.8},{"s":28,"c":"c","f":84,"v":-15},{"s":28,"c":"c","f":86,"v":-15.6},{"s":28,"c":"c","f":88,"v":-15},{"s":28,"c":"c","f":90,"v":-15.4}
]},
"data": {"name": "psd"},
"mark": {"type": "line", "strokeWidth": 3.4, "strokeJoin": "round", "clip": true},
"encoding": {
  "x": {"field": "f", "type": "quantitative",
        "scale": {"domain": [2, 90], "nice": false, "zero": false},
        "axis": {"values": [10, 20, 30, 40, 50, 60, 70, 80, 90], "grid": false,
                 "tickSize": -11, "tickWidth": 1.5, "tickColor": "#6b6b6b",
                 "domainColor": "#6b6b6b", "domainWidth": 1.5,
                 "labelPadding": 25, "labelFont": "Liberation Sans", "labelFontSize": 21,
                 "labelFontWeight": "bold", "labelColor": "#000000", "labelFlush": false, "labelOverlap": false,
                 "title": "Frequency (Hz)", "titleFont": "Liberation Sans", "titleFontSize": 24,
                 "titleFontWeight": "bold", "titleColor": "#000000",
                 "titleBaseline": "alphabetic", "titleY": 64}},
  "y": {"field": "v", "type": "quantitative",
        "scale": {"domain": [-29.65, 26.83], "nice": false, "zero": false},
        "axis": {"values": [-20, -10, 0, 10, 20], "grid": false,
                 "tickSize": -11, "tickWidth": 1.5, "tickColor": "#6b6b6b",
                 "domainColor": "#6b6b6b", "domainWidth": 1.5,
                 "labelPadding": 21, "labelFont": "Liberation Sans", "labelFontSize": 21,
                 "labelFontWeight": "bold", "labelColor": "#000000", "labelOverlap": false,
                 "title": "Log Power Spectral Density 10*log₁₀(μV²/Hz)", "titleFont": "Liberation Sans",
                 "titleFontSize": 26, "titleFontWeight": "normal", "titleColor": "#000000",
                 "titleAngle": -90, "titleAlign": "center", "titleBaseline": "alphabetic",
                 "titleX": -66, "titleY": 236}},
  "color": {"field": "c", "type": "nominal", "legend": null,
            "scale": {"domain": ["b", "g", "r", "c", "m", "y", "k"],
                      "range": ["#0000ff", "#008000", "#ff0000", "#00bfbf", "#bf00bf", "#bfbf00", "#404040"]}},
  "detail": {"field": "s", "type": "nominal"}
}
}
